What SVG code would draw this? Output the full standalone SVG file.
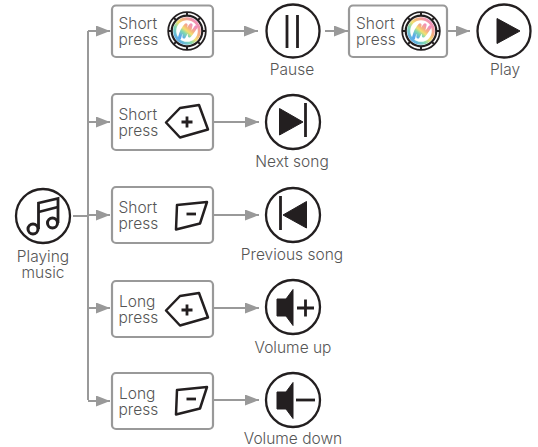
<svg xmlns="http://www.w3.org/2000/svg" width="538" height="447" viewBox="0 0 538 447">
<defs>
<style>
text{font-family:"Inter","Liberation Sans",sans-serif;font-size:15.5px;fill:#555;font-weight:300}
.lab{text-anchor:middle}
.box{fill:#fff;stroke:#999;stroke-width:2.2}
.c{fill:#fff;stroke:#231f20;stroke-width:2.3}
.k{fill:#fff;stroke:#231f20;stroke-width:2.5;stroke-linejoin:round}
.i{fill:#231f20;stroke:#231f20;stroke-width:1;stroke-linejoin:round}
.l{fill:none;stroke:#231f20;stroke-width:2.8}
.conn{fill:none;stroke:#999;stroke-width:2}
</style>
<marker id="a" markerUnits="userSpaceOnUse" markerWidth="14" markerHeight="11" refX="14" refY="5.500" orient="auto"><path d="M0 0L14 5.500L0 11Z" fill="#999"/></marker>
<linearGradient id="rb" x1="0.900" y1="0.100" x2="0.100" y2="0.900"><stop offset="0" stop-color="#f08cc0"/><stop offset=".3" stop-color="#f5b080"/><stop offset=".5" stop-color="#f3e070"/><stop offset=".7" stop-color="#80d8b0"/><stop offset="1" stop-color="#5aa8ec"/></linearGradient>
<g id="knob"><circle r="18.800" fill="#fff" stroke="#231f20" stroke-width="1.800"/><circle r="15.300" fill="none" stroke="#231f20" stroke-width="2.200"/><path d="M0 -18.500V-15.500M0 15.500V18.500M-18.500 0H-15.500M15.500 0H18.500M-13 -13L-11 -11M13 13L11 11M-13 13L-11 11M13 -13L11 -11" stroke="#231f20" stroke-width="2"/><circle r="12.300" fill="#fff" stroke="url(#rb)" stroke-width="3"/><path d="M-7.500 7C-6 1 -3 -4 -1 -6C-2 -1 -3 3 -3 6C0 0 2 -4 4 -6C3 -2 2 2 2.500 5C5 2 7 -1 9 -4" fill="none" stroke="url(#rb)" stroke-width="3.200" stroke-linejoin="round" stroke-linecap="round"/></g>
<g id="plus"><path class="k" d="M-21 1.500L-7 -13L12 -16L21 8.500L-7 16.500Z"/><path class="l" d="M-5.500 1H5.500M0 -4.500V6.500"/></g>
<g id="minus"><path class="k" d="M-14 -10L16 -13L9 8.500L-15 14.500Z"/><path class="l" d="M-4.500 -1H5"/></g>
</defs>
<g id="connectors">
<path class="conn" d="M73 216H88M88 31V400"/>
<path class="conn" marker-end="url(#a)" d="M88 31H110"/>
<path class="conn" marker-end="url(#a)" d="M88 122H110"/>
<path class="conn" marker-end="url(#a)" d="M88 215H110"/>
<path class="conn" marker-end="url(#a)" d="M88 308H110"/>
<path class="conn" marker-end="url(#a)" d="M88 401H110"/>
<path class="conn" marker-end="url(#a)" d="M213 31H258"/>
<path class="conn" marker-end="url(#a)" d="M325 31H348"/>
<path class="conn" marker-end="url(#a)" d="M447 31H470"/>
<path class="conn" marker-end="url(#a)" d="M213 122H259"/>
<path class="conn" marker-end="url(#a)" d="M213 215H259"/>
<path class="conn" marker-end="url(#a)" d="M213 308H259"/>
<path class="conn" marker-end="url(#a)" d="M213 400H259"/>
</g>
<g id="playing"><circle class="c" cx="43" cy="216" r="27"/>
<path d="M38.500 229V203L58 198.500V223" fill="none" stroke="#231f20" stroke-width="2.800"/><path d="M38.500 212L58 207" stroke="#231f20" stroke-width="2.800"/><circle cx="33" cy="229" r="5" fill="none" stroke="#231f20" stroke-width="3"/><circle cx="52.500" cy="223" r="5" fill="none" stroke="#231f20" stroke-width="3"/>
<text class="lab"><tspan x="43" y="262">Playing</tspan><tspan x="43" y="278">music</tspan></text></g>
<g id="b1"><rect class="box" x="112" y="5.500" width="101" height="51.500" rx="4"/><text><tspan x="118.500" y="29">Short</tspan><tspan x="118.500" y="45">press</tspan></text><use href="#knob" x="187" y="31"/></g>
<g id="pause"><circle class="c" cx="293" cy="31" r="26.500"/><path class="l" d="M287 15V48M297.500 15V48"/><text class="lab" x="292" y="75">Pause</text></g>
<g id="b2"><rect class="box" x="349" y="5.500" width="98" height="51.500" rx="4"/><text><tspan x="356" y="29">Short</tspan><tspan x="356" y="45">press</tspan></text><use href="#knob" x="421" y="31"/></g>
<g id="play"><circle class="c" cx="504" cy="31" r="26.500"/><path class="i" d="M497 18.500L520 31L497 43.500Z"/><text class="lab" x="505" y="75">Play</text></g>
<g id="b3"><rect class="box" x="112" y="94" width="101" height="56" rx="4"/><text><tspan x="118.500" y="120">Short</tspan><tspan x="118.500" y="136">press</tspan></text><use href="#plus" x="187" y="121"/></g>
<g id="next"><circle class="c" cx="293" cy="122" r="27"/><path class="i" d="M279.500 108.500L303 122L279.500 135Z"/><path class="l" d="M305.500 103V137"/><text class="lab" x="292" y="167">Next song</text></g>
<g id="b4"><rect class="box" x="112" y="187" width="101" height="56" rx="4"/><text><tspan x="118.500" y="213">Short</tspan><tspan x="118.500" y="229">press</tspan></text><use href="#minus" x="191" y="215"/></g>
<g id="prev"><circle class="c" cx="293" cy="215" r="27"/><path class="i" d="M306.500 201.500L283 215L306.500 228Z"/><path class="l" d="M280.500 196V230"/><text class="lab" x="292" y="260">Previous song</text></g>
<g id="b5"><rect class="box" x="112" y="281" width="101" height="56" rx="4"/><text><tspan x="119" y="307">Long</tspan><tspan x="118.500" y="323">press</tspan></text><use href="#plus" x="187" y="309"/></g>
<g id="volup"><circle class="c" cx="293" cy="307" r="27"/><path class="i" d="M277 299H286L293 289.500V325.500L286 316H277Z"/><path class="l" d="M297 308H314M305.500 299.500V316.500" stroke-width="3.500"/><text class="lab" x="293" y="353">Volume up</text></g>
<g id="b6"><rect class="box" x="112" y="373" width="101" height="56" rx="4"/><text><tspan x="119" y="399">Long</tspan><tspan x="118.500" y="415">press</tspan></text><use href="#minus" x="191" y="400"/></g>
<g id="voldown"><circle class="c" cx="293" cy="400" r="27"/><path class="i" d="M277 392H286L293 382.500V418.500L286 409H277Z"/><path class="l" d="M296 400H315" stroke-width="3.500"/><text class="lab" x="293" y="444">Volume down</text></g>
</svg>
